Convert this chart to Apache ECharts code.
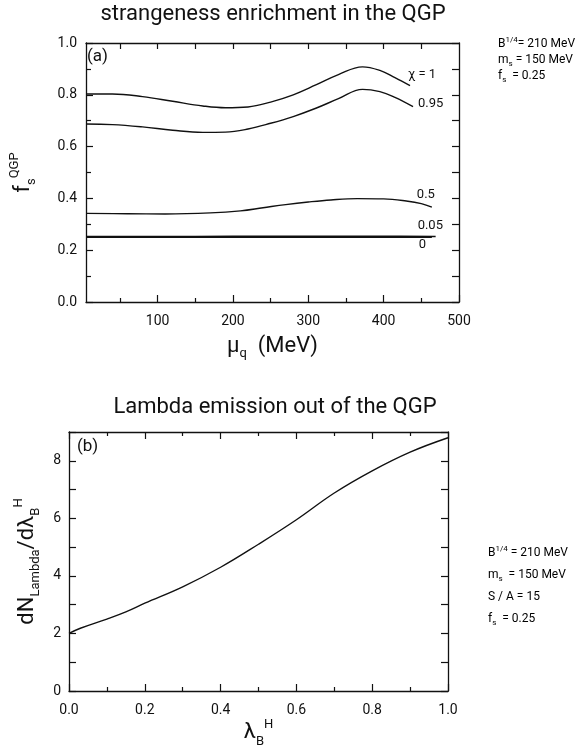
<!DOCTYPE html>
<html>
<head>
<meta charset="utf-8">
<script src="https://cdn.jsdelivr.net/npm/echarts@6/dist/echarts.min.js"></script>
<style>
  html, body { margin: 0; padding: 0; background: #fff; }
  #chart { width: 582px; height: 749px; }
</style>
</head>
<body>
<div id="chart"></div>
<script>
// panel (a): f_s^QGP vs mu_q for several chi
const chi1Mu = [5, 40, 80, 120, 160, 190, 220, 250, 280, 310, 340, 372, 395, 415, 435]
const chi1Val = [0.803, 0.803, 0.793, 0.775, 0.757, 0.750, 0.753, 0.772, 0.800, 0.838, 0.878, 0.908, 0.894, 0.866, 0.835]
const chi095Mu = [5, 40, 80, 120, 160, 190, 220, 250, 280, 310, 340, 372, 395, 415, 439]
const chi095Val = [0.687, 0.685, 0.676, 0.663, 0.655, 0.656, 0.668, 0.690, 0.716, 0.748, 0.785, 0.821, 0.812, 0.790, 0.754]
const chi05Mu = [5, 60, 110, 170, 210, 240, 270, 300, 330, 365, 400, 430, 450, 464]
const chi05Val = [0.342, 0.341, 0.340, 0.344, 0.352, 0.364, 0.376, 0.386, 0.394, 0.399, 0.398, 0.390, 0.380, 0.366]
const chi005Mu = [5, 100, 200, 300, 400, 469]
const chi005Val = [0.253, 0.253, 0.254, 0.254, 0.254, 0.253]
const chi0Mu = [5, 200, 464]
const chi0Val = [0.250, 0.250, 0.250]
const chiLabels = ['χ = 1', '0.95', '0.5', '0.05', '0']

// panel (b): dN_Lambda / d lambda_B^H
const lambdaB = [0, 0.03, 0.1, 0.15, 0.2, 0.3, 0.4, 0.5, 0.6, 0.7, 0.8, 0.9, 1.0]
const dNdLambda = [2.0, 2.18, 2.5, 2.75, 3.05, 3.62, 4.3, 5.1, 5.95, 6.88, 7.65, 8.3, 8.8]

// axis ticks / labels
const muLabelVals = [100, 200, 300, 400, 500]
const muMinorVals = [50, 150, 250, 350, 450]
const muTopVals = [50, 100, 150, 200, 250, 300, 350, 400, 450]

const paramsA = ['{t|B}{sup|1/4}{t|= 210 MeV}', '{t|m}{sub|s}{t| = 150 MeV}', '{t|f}{sub|s}{t|  = 0.25}']
const paramsB = ['{t|B}{sup|1/4}{t| = 210 MeV}', '{t|m}{sub|s}{t|  = 150 MeV}', '{t|S / A = 15}', '{t|f}{sub|s}{t|  = 0.25}']

const FONT = 'Roboto, "Liberation Sans", sans-serif'
const INK = '#111'

const chart = echarts.init(document.getElementById('chart'), null, { renderer: 'canvas' })

function zip (xs, ys) {
  return xs.map((x, i) => [x, ys[i]])
}

const lineAxis = { show: true, onZero: false, lineStyle: { color: INK, width: 1.3 } }
const tickStyle = { color: INK, width: 1.2 }
const smallRich = {
  t: { fontSize: 12, fontFamily: FONT, color: INK },
  sup: { fontSize: 8, fontFamily: FONT, color: INK, verticalAlign: 'top', lineHeight: 16 },
  sub: { fontSize: 8, fontFamily: FONT, color: INK, verticalAlign: 'bottom', lineHeight: 16 }
}

function paramText (text, x, y) {
  return {
    type: 'text',
    x: x,
    y: y,
    style: { text: text, rich: smallRich, verticalAlign: 'middle', align: 'left' }
  }
}

// label offsets next to the curve ends
const endOffsets = [[-2, -11], [5, -3], [-15, -12], [-18, -11], [-13, 7]]

function chiSeries (xs, ys, idx) {
  return {
    type: 'line',
    xAxisIndex: 0,
    yAxisIndex: 0,
    data: zip(xs, ys),
    smooth: 0.4,
    showSymbol: false,
    symbol: 'none',
    silent: true,
    lineStyle: { color: INK, width: 1.4 },
    endLabel: {
      show: true,
      formatter: chiLabels[idx],
      distance: 0,
      offset: endOffsets[idx],
      align: 'left',
      verticalAlign: 'middle',
      fontSize: 13,
      fontFamily: FONT,
      color: INK
    }
  }
}

const option = {
  animation: false,
  backgroundColor: '#fff',
  textStyle: { fontFamily: FONT, color: INK },
  title: [
    {
      text: 'strangeness enrichment in the QGP',
      left: 273,
      textAlign: 'center',
      top: 3,
      padding: 0,
      textStyle: { fontSize: 22, fontWeight: 'normal', fontFamily: FONT, color: INK }
    },
    {
      text: 'Lambda emission out of the QGP',
      left: 275,
      textAlign: 'center',
      top: 396,
      padding: 0,
      textStyle: { fontSize: 22, fontWeight: 'normal', fontFamily: FONT, color: INK }
    }
  ],
  grid: [
    { left: 81, top: 43, width: 378, height: 259 },
    { left: 69, top: 432, width: 379, height: 259 }
  ],
  xAxis: [
    {
      gridIndex: 0,
      type: 'value',
      position: 'bottom',
      min: 5,
      max: 500,
      axisLine: lineAxis,
      axisTick: { show: true, inside: true, length: 7, customValues: muLabelVals, lineStyle: tickStyle },
      axisLabel: { customValues: muLabelVals, fontSize: 14, margin: 12, color: INK, fontFamily: FONT },
      splitLine: { show: false },
      name: '{m|μ}{sub|q}{m|  (MeV)}',
      nameLocation: 'middle',
      nameGap: 30,
      nameTextStyle: {
        rich: {
          m: { fontSize: 22, fontFamily: FONT, color: INK, lineHeight: 28 },
          sub: { fontSize: 13, fontFamily: FONT, color: INK, verticalAlign: 'bottom', lineHeight: 28 }
        }
      }
    },
    {
      gridIndex: 0,
      type: 'value',
      position: 'bottom',
      min: 5,
      max: 500,
      axisLine: { show: false },
      axisTick: { show: true, inside: true, length: 4, customValues: muMinorVals, lineStyle: tickStyle },
      axisLabel: { show: false },
      splitLine: { show: false }
    },
    {
      gridIndex: 0,
      type: 'value',
      position: 'top',
      min: 5,
      max: 500,
      axisLine: lineAxis,
      axisTick: { show: true, inside: true, length: 6, customValues: muTopVals, lineStyle: tickStyle },
      axisLabel: { show: false },
      splitLine: { show: false }
    },
    {
      gridIndex: 1,
      type: 'value',
      position: 'bottom',
      min: 0,
      max: 1,
      interval: 0.2,
      axisLine: lineAxis,
      axisTick: { show: true, inside: true, length: 7, lineStyle: tickStyle },
      minorTick: { show: true, splitNumber: 2, length: 4, lineStyle: tickStyle },
      axisLabel: { fontSize: 14, margin: 12, color: INK, fontFamily: FONT, formatter: v => v.toFixed(1) },
      splitLine: { show: false },
      name: '{m|λ}{sub|B}{sup|H}',
      nameLocation: 'middle',
      nameGap: 24,
      nameTextStyle: {
        rich: {
          m: { fontSize: 22, fontFamily: FONT, color: INK, lineHeight: 30 },
          sub: { fontSize: 13, fontFamily: FONT, color: INK, verticalAlign: 'bottom', lineHeight: 30 },
          sup: { fontSize: 13, fontFamily: FONT, color: INK, verticalAlign: 'top', lineHeight: 30 }
        }
      }
    },
    {
      gridIndex: 1,
      type: 'value',
      position: 'top',
      min: 0,
      max: 1,
      interval: 0.2,
      axisLine: lineAxis,
      axisTick: { show: true, inside: true, length: 7, lineStyle: tickStyle },
      minorTick: { show: true, splitNumber: 2, length: 4, lineStyle: tickStyle },
      axisLabel: { show: false },
      splitLine: { show: false }
    }
  ],
  yAxis: [
    {
      gridIndex: 0,
      type: 'value',
      position: 'left',
      min: 0,
      max: 1,
      interval: 0.2,
      axisLine: lineAxis,
      axisTick: { show: true, inside: true, length: 7, lineStyle: tickStyle },
      minorTick: { show: true, splitNumber: 2, length: 5, lineStyle: tickStyle },
      axisLabel: { fontSize: 14, margin: 9, color: INK, fontFamily: FONT, formatter: v => v.toFixed(1) },
      splitLine: { show: false },
      name: '{m|f}{sub|s}{sup|QGP}',
      nameLocation: 'middle',
      nameGap: 48,
      nameTextStyle: {
        rich: {
          m: { fontSize: 22, fontFamily: FONT, color: INK, lineHeight: 30 },
          sub: { fontSize: 13, fontFamily: FONT, color: INK, verticalAlign: 'bottom', lineHeight: 30 },
          sup: { fontSize: 13, fontFamily: FONT, color: INK, verticalAlign: 'top', lineHeight: 30 }
        }
      }
    },
    {
      gridIndex: 0,
      type: 'value',
      position: 'right',
      min: 0,
      max: 1,
      interval: 0.1,
      axisLine: lineAxis,
      axisTick: { show: true, inside: true, length: 7, lineStyle: tickStyle },
      axisLabel: { show: false },
      splitLine: { show: false }
    },
    {
      gridIndex: 1,
      type: 'value',
      position: 'left',
      min: 0,
      max: 9,
      interval: 1,
      axisLine: lineAxis,
      axisTick: { show: true, inside: true, length: 7, lineStyle: tickStyle },
      axisLabel: {
        fontSize: 14, margin: 8, color: INK, fontFamily: FONT,
        formatter: v => (v % 2 === 0 && v < 9 ? String(v) : '')
      },
      splitLine: { show: false },
      name: '{m|dN}{sub|Lambda}{m|/dλ}{sub|B}{sup|H}',
      nameLocation: 'middle',
      nameGap: 26,
      nameTextStyle: {
        rich: {
          m: { fontSize: 22, fontFamily: FONT, color: INK, lineHeight: 30 },
          sub: { fontSize: 13, fontFamily: FONT, color: INK, verticalAlign: 'bottom', lineHeight: 30 },
          sup: { fontSize: 13, fontFamily: FONT, color: INK, verticalAlign: 'top', lineHeight: 30 }
        }
      }
    },
    {
      gridIndex: 1,
      type: 'value',
      position: 'right',
      min: 0,
      max: 9,
      interval: 1,
      axisLine: lineAxis,
      axisTick: { show: true, inside: true, length: 7, lineStyle: tickStyle },
      axisLabel: { show: false },
      splitLine: { show: false }
    }
  ],
  graphic: [
    { type: 'text', x: 87, y: 57, style: { text: '(a)', fontSize: 17, fontFamily: FONT, fill: INK, verticalAlign: 'middle' } },
    { type: 'text', x: 77, y: 447, style: { text: '(b)', fontSize: 17, fontFamily: FONT, fill: INK, verticalAlign: 'middle' } },
    paramText(paramsA[0], 498, 44),
    paramText(paramsA[1], 498, 60),
    paramText(paramsA[2], 498, 76),
    paramText(paramsB[0], 488, 553),
    paramText(paramsB[1], 488, 575),
    paramText(paramsB[2], 488, 597),
    paramText(paramsB[3], 488, 619)
  ],
  series: [
    chiSeries(chi1Mu, chi1Val, 0),
    chiSeries(chi095Mu, chi095Val, 1),
    chiSeries(chi05Mu, chi05Val, 2),
    chiSeries(chi005Mu, chi005Val, 3),
    chiSeries(chi0Mu, chi0Val, 4),
    {
      type: 'line',
      xAxisIndex: 3,
      yAxisIndex: 2,
      data: zip(lambdaB, dNdLambda),
      smooth: 0.4,
      showSymbol: false,
      symbol: 'none',
      silent: true,
      lineStyle: { color: INK, width: 1.4 }
    }
  ]
}

chart.setOption(option)
</script>
</body>
</html>
